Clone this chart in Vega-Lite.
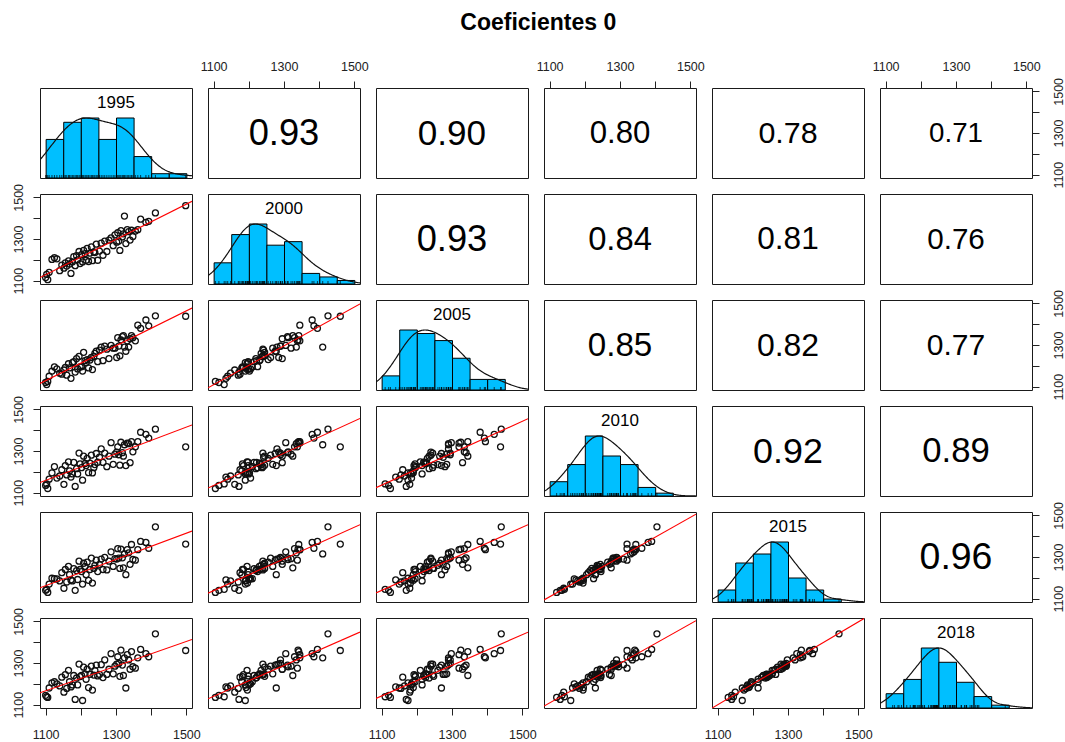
{
  "$schema": "https://vega.github.io/schema/vega-lite/v6.json",
  "padding": {"left": 11, "top": 11, "right": 5, "bottom": 5},
  "background": "white",
  "title": {"text": "Coeficientes 0", "font": "Liberation Sans", "fontSize": 23, "fontWeight": "bold", "color": "black", "anchor": "middle", "offset": 25},
  "config": {
    "view": {"stroke": "#1a1a1a", "strokeWidth": 1},
    "axis": {"domain": false, "grid": false, "ticks": true, "tickSize": 7, "tickWidth": 1, "tickColor": "#222", "labelColor": "#222", "labelFont": "Liberation Sans", "labelFontSize": 12.5, "labelPadding": 8, "labelOverlap": false, "labelBound": false, "labelFlush": false},
    "axisBottom": {"labelPadding": 13},
    "axisRight": {"labelPadding": 13},
    "point": {"shape": "circle", "filled": false, "color": "#111", "opacity": 1, "size": 36, "strokeWidth": 1.3},
    "text": {"font": "Liberation Sans", "color": "black"}
  },
  "datasets": {
    "cor": [
      {"pair": "1995-2000", "r": 0.93}, {"pair": "1995-2005", "r": 0.90}, {"pair": "1995-2010", "r": 0.80},
      {"pair": "1995-2015", "r": 0.78}, {"pair": "1995-2018", "r": 0.71}, {"pair": "2000-2005", "r": 0.93},
      {"pair": "2000-2010", "r": 0.84}, {"pair": "2000-2015", "r": 0.81}, {"pair": "2000-2018", "r": 0.76},
      {"pair": "2005-2010", "r": 0.85}, {"pair": "2005-2015", "r": 0.82}, {"pair": "2005-2018", "r": 0.77},
      {"pair": "2010-2015", "r": 0.92}, {"pair": "2010-2018", "r": 0.89}, {"pair": "2015-2018", "r": 0.96}
    ]
  },
  "data": {"values": [
    {"v1995": 1100, "v2000": 1115, "v2005": 1120, "v2010": 1135, "v2015": 1140, "v2018": 1145},
    {"v1995": 1103, "v2000": 1130, "v2005": 1110, "v2010": 1142, "v2015": 1145, "v2018": 1138},
    {"v1995": 1106, "v2000": 1105, "v2005": 1125, "v2010": 1120, "v2015": 1130, "v2018": 1135},
    {"v1995": 1110, "v2000": 1140, "v2005": 1150, "v2010": 1165, "v2015": 1170, "v2018": 1180},
    {"v1995": 1118, "v2000": 1202, "v2005": 1175, "v2010": 1195, "v2015": 1198, "v2018": 1205},
    {"v1995": 1125, "v2000": 1210, "v2005": 1195, "v2010": 1225, "v2015": 1196, "v2018": 1210},
    {"v1995": 1132, "v2000": 1205, "v2005": 1185, "v2010": 1170, "v2015": 1195, "v2018": 1200},
    {"v1995": 1140, "v2000": 1148, "v2005": 1165, "v2010": 1180, "v2015": 1185, "v2018": 1190},
    {"v1995": 1146, "v2000": 1175, "v2005": 1160, "v2010": 1210, "v2015": 1225, "v2018": 1232},
    {"v1995": 1152, "v2000": 1160, "v2005": 1180, "v2010": 1140, "v2015": 1150, "v2018": 1160},
    {"v1995": 1156, "v2000": 1185, "v2005": 1192, "v2010": 1230, "v2015": 1240, "v2018": 1244},
    {"v1995": 1160, "v2000": 1170, "v2005": 1155, "v2010": 1185, "v2015": 1180, "v2018": 1178},
    {"v1995": 1165, "v2000": 1195, "v2005": 1210, "v2010": 1248, "v2015": 1255, "v2018": 1265},
    {"v1995": 1168, "v2000": 1180, "v2005": 1190, "v2010": 1205, "v2015": 1215, "v2018": 1210},
    {"v1995": 1172, "v2000": 1135, "v2005": 1140, "v2010": 1175, "v2015": 1190, "v2018": 1185},
    {"v1995": 1176, "v2000": 1190, "v2005": 1215, "v2010": 1190, "v2015": 1185, "v2018": 1195},
    {"v1995": 1180, "v2000": 1215, "v2005": 1220, "v2010": 1245, "v2015": 1244, "v2018": 1240},
    {"v1995": 1184, "v2000": 1172, "v2005": 1170, "v2010": 1130, "v2015": 1140, "v2018": 1125},
    {"v1995": 1188, "v2000": 1220, "v2005": 1235, "v2010": 1215, "v2015": 1235, "v2018": 1228},
    {"v1995": 1191, "v2000": 1200, "v2005": 1185, "v2010": 1190, "v2015": 1192, "v2018": 1195},
    {"v1995": 1195, "v2000": 1240, "v2005": 1245, "v2010": 1290, "v2015": 1280, "v2018": 1295},
    {"v1995": 1198, "v2000": 1182, "v2005": 1195, "v2010": 1238, "v2015": 1240, "v2018": 1235},
    {"v1995": 1202, "v2000": 1225, "v2005": 1196, "v2010": 1220, "v2015": 1230, "v2018": 1240},
    {"v1995": 1205, "v2000": 1190, "v2005": 1175, "v2010": 1160, "v2015": 1170, "v2018": 1120},
    {"v1995": 1208, "v2000": 1245, "v2005": 1265, "v2010": 1275, "v2015": 1270, "v2018": 1280},
    {"v1995": 1212, "v2000": 1230, "v2005": 1225, "v2010": 1240, "v2015": 1255, "v2018": 1248},
    {"v1995": 1215, "v2000": 1198, "v2005": 1215, "v2010": 1230, "v2015": 1215, "v2018": 1222},
    {"v1995": 1218, "v2000": 1255, "v2005": 1230, "v2010": 1265, "v2015": 1275, "v2018": 1270},
    {"v1995": 1222, "v2000": 1192, "v2005": 1190, "v2010": 1196, "v2015": 1188, "v2018": 1182},
    {"v1995": 1226, "v2000": 1232, "v2005": 1228, "v2010": 1242, "v2015": 1240, "v2018": 1246},
    {"v1995": 1230, "v2000": 1262, "v2005": 1240, "v2010": 1280, "v2015": 1295, "v2018": 1285},
    {"v1995": 1233, "v2000": 1196, "v2005": 1182, "v2010": 1195, "v2015": 1175, "v2018": 1170},
    {"v1995": 1237, "v2000": 1238, "v2005": 1245, "v2010": 1220, "v2015": 1245, "v2018": 1242},
    {"v1995": 1240, "v2000": 1235, "v2005": 1260, "v2010": 1235, "v2015": 1260, "v2018": 1265},
    {"v1995": 1244, "v2000": 1275, "v2005": 1270, "v2010": 1288, "v2015": 1285, "v2018": 1290},
    {"v1995": 1248, "v2000": 1198, "v2005": 1220, "v2010": 1246, "v2015": 1230, "v2018": 1238},
    {"v1995": 1253, "v2000": 1242, "v2005": 1275, "v2010": 1270, "v2015": 1265, "v2018": 1245},
    {"v1995": 1258, "v2000": 1280, "v2005": 1290, "v2010": 1310, "v2015": 1290, "v2018": 1292},
    {"v1995": 1263, "v2000": 1222, "v2005": 1225, "v2010": 1245, "v2015": 1240, "v2018": 1230},
    {"v1995": 1268, "v2000": 1290, "v2005": 1295, "v2010": 1290, "v2015": 1298, "v2018": 1315},
    {"v1995": 1274, "v2000": 1240, "v2005": 1280, "v2010": 1225, "v2015": 1238, "v2018": 1245},
    {"v1995": 1280, "v2000": 1295, "v2005": 1235, "v2010": 1275, "v2015": 1280, "v2018": 1270},
    {"v1995": 1286, "v2000": 1305, "v2005": 1298, "v2010": 1340, "v2015": 1325, "v2018": 1345},
    {"v1995": 1292, "v2000": 1268, "v2005": 1285, "v2010": 1236, "v2015": 1255, "v2018": 1248},
    {"v1995": 1297, "v2000": 1320, "v2005": 1285, "v2010": 1285, "v2015": 1292, "v2018": 1285},
    {"v1995": 1302, "v2000": 1285, "v2005": 1240, "v2010": 1295, "v2015": 1290, "v2018": 1295},
    {"v1995": 1305, "v2000": 1330, "v2005": 1335, "v2010": 1320, "v2015": 1340, "v2018": 1330},
    {"v1995": 1308, "v2000": 1290, "v2005": 1295, "v2010": 1282, "v2015": 1295, "v2018": 1298},
    {"v1995": 1311, "v2000": 1245, "v2005": 1248, "v2010": 1232, "v2015": 1245, "v2018": 1236},
    {"v1995": 1314, "v2000": 1340, "v2005": 1325, "v2010": 1342, "v2015": 1338, "v2018": 1362},
    {"v1995": 1318, "v2000": 1310, "v2005": 1340, "v2010": 1292, "v2015": 1296, "v2018": 1290},
    {"v1995": 1321, "v2000": 1325, "v2005": 1345, "v2010": 1275, "v2015": 1248, "v2018": 1240},
    {"v1995": 1324, "v2000": 1410, "v2005": 1290, "v2010": 1330, "v2015": 1315, "v2018": 1325},
    {"v1995": 1328, "v2000": 1278, "v2005": 1270, "v2010": 1230, "v2015": 1215, "v2018": 1180},
    {"v1995": 1332, "v2000": 1345, "v2005": 1320, "v2010": 1338, "v2015": 1335, "v2018": 1340},
    {"v1995": 1336, "v2000": 1335, "v2005": 1290, "v2010": 1335, "v2015": 1320, "v2018": 1315},
    {"v1995": 1340, "v2000": 1295, "v2005": 1330, "v2010": 1244, "v2015": 1265, "v2018": 1270},
    {"v1995": 1344, "v2000": 1342, "v2005": 1345, "v2010": 1345, "v2015": 1360, "v2018": 1355},
    {"v1995": 1348, "v2000": 1312, "v2005": 1335, "v2010": 1296, "v2015": 1288, "v2018": 1282},
    {"v1995": 1355, "v2000": 1338, "v2005": 1320, "v2010": 1320, "v2015": 1285, "v2018": 1275},
    {"v1995": 1362, "v2000": 1345, "v2005": 1395, "v2010": 1345, "v2015": 1335, "v2018": 1325},
    {"v1995": 1370, "v2000": 1395, "v2005": 1380, "v2010": 1390, "v2015": 1375, "v2018": 1365},
    {"v1995": 1385, "v2000": 1380, "v2005": 1420, "v2010": 1380, "v2015": 1370, "v2018": 1345},
    {"v1995": 1393, "v2000": 1385, "v2005": 1392, "v2010": 1362, "v2015": 1342, "v2018": 1330},
    {"v1995": 1412, "v2000": 1425, "v2005": 1440, "v2010": 1405, "v2015": 1445, "v2018": 1440},
    {"v1995": 1498, "v2000": 1460, "v2005": 1438, "v2010": 1320, "v2015": 1362, "v2018": 1360}
  ]},
  "columns": 6,
  "spacing": 16,
  "bounds": "flush",
  "concat": [
    {"width": 152, "height": 90, "resolve": {"scale": {"y": "independent"}}, "layer": [
      {"layer": [
        {"mark": {"type": "bar", "fill": "#00BFFF", "stroke": "black", "strokeWidth": 1, "binSpacing": 0}, "encoding": {"x": {"field": "v1995", "type": "quantitative", "bin": {"extent": [1100, 1500], "step": 50}, "scale": {"domain": [1084, 1516], "nice": false, "zero": false}, "axis": null}, "y": {"aggregate": "count", "type": "quantitative", "scale": {"range": [90, 30], "zero": true, "nice": false}, "axis": null}}},
        {"mark": {"type": "tick", "orient": "vertical", "size": 6, "thickness": 1, "color": "black", "clip": true}, "encoding": {"x": {"field": "v1995", "type": "quantitative"}, "y": {"datum": 0, "type": "quantitative"}}}
      ]},
      {"transform": [{"density": "v1995", "bandwidth": 45, "extent": [1084, 1516], "steps": 200}], "mark": {"type": "line", "color": "#111", "strokeWidth": 1.2, "clip": true}, "encoding": {"x": {"field": "value", "type": "quantitative"}, "y": {"field": "density", "type": "quantitative", "scale": {"range": [90, 30], "zero": true, "nice": false}, "axis": null}}},
      {"data": {"values": [{}]}, "mark": {"type": "text", "text": "1995", "fontSize": 17}, "encoding": {"x": {"datum": 1300, "type": "quantitative"}, "y": {"datum": 0.83, "type": "quantitative", "scale": {"domain": [0, 1]}, "axis": null}}}
    ]},
    {"width": 152, "height": 90, "data": {"name": "cor"}, "transform": [{"filter": "datum.pair == '1995-2000'"}], "mark": {"type": "text", "baseline": "middle", "dy": 1}, "encoding": {"x": {"datum": 1300, "type": "quantitative", "scale": {"domain": [1084, 1516], "nice": false, "zero": false}, "axis": {"orient": "top", "values": [1100, 1200, 1300, 1400, 1500], "format": "d", "labelExpr": "datum.value % 200 == 100 ? datum.label : ''", "title": null}}, "y": {"datum": 1300, "type": "quantitative", "scale": {"domain": [1084, 1516], "nice": false, "zero": false}, "axis": null}, "text": {"field": "r", "type": "quantitative", "format": ".2f"}, "size": {"field": "r", "type": "quantitative", "scale": {"type": "linear", "domain": [0, 1], "range": [0, 39]}, "legend": null}}},
    {"width": 152, "height": 90, "data": {"name": "cor"}, "transform": [{"filter": "datum.pair == '1995-2005'"}], "mark": {"type": "text", "baseline": "middle", "dy": 1}, "encoding": {"x": {"datum": 1300, "type": "quantitative", "scale": {"domain": [1084, 1516], "nice": false, "zero": false}, "axis": null}, "y": {"datum": 1300, "type": "quantitative", "scale": {"domain": [1084, 1516], "nice": false, "zero": false}, "axis": null}, "text": {"field": "r", "type": "quantitative", "format": ".2f"}, "size": {"field": "r", "type": "quantitative", "scale": {"type": "linear", "domain": [0, 1], "range": [0, 39]}, "legend": null}}},
    {"width": 152, "height": 90, "data": {"name": "cor"}, "transform": [{"filter": "datum.pair == '1995-2010'"}], "mark": {"type": "text", "baseline": "middle", "dy": 1}, "encoding": {"x": {"datum": 1300, "type": "quantitative", "scale": {"domain": [1084, 1516], "nice": false, "zero": false}, "axis": {"orient": "top", "values": [1100, 1200, 1300, 1400, 1500], "format": "d", "labelExpr": "datum.value % 200 == 100 ? datum.label : ''", "title": null}}, "y": {"datum": 1300, "type": "quantitative", "scale": {"domain": [1084, 1516], "nice": false, "zero": false}, "axis": null}, "text": {"field": "r", "type": "quantitative", "format": ".2f"}, "size": {"field": "r", "type": "quantitative", "scale": {"type": "linear", "domain": [0, 1], "range": [0, 39]}, "legend": null}}},
    {"width": 152, "height": 90, "data": {"name": "cor"}, "transform": [{"filter": "datum.pair == '1995-2015'"}], "mark": {"type": "text", "baseline": "middle", "dy": 1}, "encoding": {"x": {"datum": 1300, "type": "quantitative", "scale": {"domain": [1084, 1516], "nice": false, "zero": false}, "axis": null}, "y": {"datum": 1300, "type": "quantitative", "scale": {"domain": [1084, 1516], "nice": false, "zero": false}, "axis": null}, "text": {"field": "r", "type": "quantitative", "format": ".2f"}, "size": {"field": "r", "type": "quantitative", "scale": {"type": "linear", "domain": [0, 1], "range": [0, 39]}, "legend": null}}},
    {"width": 152, "height": 90, "data": {"name": "cor"}, "transform": [{"filter": "datum.pair == '1995-2018'"}], "mark": {"type": "text", "baseline": "middle", "dy": 1}, "encoding": {"x": {"datum": 1300, "type": "quantitative", "scale": {"domain": [1084, 1516], "nice": false, "zero": false}, "axis": {"orient": "top", "values": [1100, 1200, 1300, 1400, 1500], "format": "d", "labelExpr": "datum.value % 200 == 100 ? datum.label : ''", "title": null}}, "y": {"datum": 1300, "type": "quantitative", "scale": {"domain": [1084, 1516], "nice": false, "zero": false}, "axis": {"orient": "right", "values": [1100, 1200, 1300, 1400, 1500], "format": "d", "labelExpr": "datum.value % 200 == 100 ? datum.label : ''", "title": null, "labelAngle": 270, "labelAlign": "center", "labelBaseline": "top"}}, "text": {"field": "r", "type": "quantitative", "format": ".2f"}, "size": {"field": "r", "type": "quantitative", "scale": {"type": "linear", "domain": [0, 1], "range": [0, 39]}, "legend": null}}},

    {"width": 152, "height": 90, "encoding": {"x": {"field": "v1995", "type": "quantitative", "scale": {"domain": [1084, 1516], "nice": false, "zero": false}, "axis": null}, "y": {"field": "v2000", "type": "quantitative", "scale": {"domain": [1084, 1516], "nice": false, "zero": false}, "axis": {"orient": "left", "values": [1100, 1200, 1300, 1400, 1500], "format": "d", "labelExpr": "datum.value % 200 == 100 ? datum.label : ''", "title": null, "labelAngle": 270, "labelAlign": "center", "labelBaseline": "bottom"}}}, "layer": [
      {"mark": {"type": "point"}, "encoding": {}},
      {"transform": [{"regression": "v2000", "on": "v1995", "extent": [1084, 1516]}], "mark": {"type": "line", "color": "red", "strokeWidth": 1.1, "clip": true}, "encoding": {}}
    ]},
    {"width": 152, "height": 90, "resolve": {"scale": {"y": "independent"}}, "layer": [
      {"layer": [
        {"mark": {"type": "bar", "fill": "#00BFFF", "stroke": "black", "strokeWidth": 1, "binSpacing": 0}, "encoding": {"x": {"field": "v2000", "type": "quantitative", "bin": {"extent": [1100, 1500], "step": 50}, "scale": {"domain": [1084, 1516], "nice": false, "zero": false}, "axis": null}, "y": {"aggregate": "count", "type": "quantitative", "scale": {"range": [90, 30], "zero": true, "nice": false}, "axis": null}}},
        {"mark": {"type": "tick", "orient": "vertical", "size": 6, "thickness": 1, "color": "black", "clip": true}, "encoding": {"x": {"field": "v2000", "type": "quantitative"}, "y": {"datum": 0, "type": "quantitative"}}}
      ]},
      {"transform": [{"density": "v2000", "bandwidth": 41, "extent": [1084, 1516], "steps": 200}], "mark": {"type": "line", "color": "#111", "strokeWidth": 1.2, "clip": true}, "encoding": {"x": {"field": "value", "type": "quantitative"}, "y": {"field": "density", "type": "quantitative", "scale": {"range": [90, 30], "zero": true, "nice": false}, "axis": null}}},
      {"data": {"values": [{}]}, "mark": {"type": "text", "text": "2000", "fontSize": 17}, "encoding": {"x": {"datum": 1300, "type": "quantitative"}, "y": {"datum": 0.83, "type": "quantitative", "scale": {"domain": [0, 1]}, "axis": null}}}
    ]},
    {"width": 152, "height": 90, "data": {"name": "cor"}, "transform": [{"filter": "datum.pair == '2000-2005'"}], "mark": {"type": "text", "baseline": "middle", "dy": 1}, "encoding": {"x": {"datum": 1300, "type": "quantitative", "scale": {"domain": [1084, 1516], "nice": false, "zero": false}, "axis": null}, "y": {"datum": 1300, "type": "quantitative", "scale": {"domain": [1084, 1516], "nice": false, "zero": false}, "axis": null}, "text": {"field": "r", "type": "quantitative", "format": ".2f"}, "size": {"field": "r", "type": "quantitative", "scale": {"type": "linear", "domain": [0, 1], "range": [0, 39]}, "legend": null}}},
    {"width": 152, "height": 90, "data": {"name": "cor"}, "transform": [{"filter": "datum.pair == '2000-2010'"}], "mark": {"type": "text", "baseline": "middle", "dy": 1}, "encoding": {"x": {"datum": 1300, "type": "quantitative", "scale": {"domain": [1084, 1516], "nice": false, "zero": false}, "axis": null}, "y": {"datum": 1300, "type": "quantitative", "scale": {"domain": [1084, 1516], "nice": false, "zero": false}, "axis": null}, "text": {"field": "r", "type": "quantitative", "format": ".2f"}, "size": {"field": "r", "type": "quantitative", "scale": {"type": "linear", "domain": [0, 1], "range": [0, 39]}, "legend": null}}},
    {"width": 152, "height": 90, "data": {"name": "cor"}, "transform": [{"filter": "datum.pair == '2000-2015'"}], "mark": {"type": "text", "baseline": "middle", "dy": 1}, "encoding": {"x": {"datum": 1300, "type": "quantitative", "scale": {"domain": [1084, 1516], "nice": false, "zero": false}, "axis": null}, "y": {"datum": 1300, "type": "quantitative", "scale": {"domain": [1084, 1516], "nice": false, "zero": false}, "axis": null}, "text": {"field": "r", "type": "quantitative", "format": ".2f"}, "size": {"field": "r", "type": "quantitative", "scale": {"type": "linear", "domain": [0, 1], "range": [0, 39]}, "legend": null}}},
    {"width": 152, "height": 90, "data": {"name": "cor"}, "transform": [{"filter": "datum.pair == '2000-2018'"}], "mark": {"type": "text", "baseline": "middle", "dy": 1}, "encoding": {"x": {"datum": 1300, "type": "quantitative", "scale": {"domain": [1084, 1516], "nice": false, "zero": false}, "axis": null}, "y": {"datum": 1300, "type": "quantitative", "scale": {"domain": [1084, 1516], "nice": false, "zero": false}, "axis": null}, "text": {"field": "r", "type": "quantitative", "format": ".2f"}, "size": {"field": "r", "type": "quantitative", "scale": {"type": "linear", "domain": [0, 1], "range": [0, 39]}, "legend": null}}},

    {"width": 152, "height": 90, "encoding": {"x": {"field": "v1995", "type": "quantitative", "scale": {"domain": [1084, 1516], "nice": false, "zero": false}, "axis": null}, "y": {"field": "v2005", "type": "quantitative", "scale": {"domain": [1084, 1516], "nice": false, "zero": false}, "axis": null}}, "layer": [
      {"mark": {"type": "point"}, "encoding": {}},
      {"transform": [{"regression": "v2005", "on": "v1995", "extent": [1084, 1516]}], "mark": {"type": "line", "color": "red", "strokeWidth": 1.1, "clip": true}, "encoding": {}}
    ]},
    {"width": 152, "height": 90, "encoding": {"x": {"field": "v2000", "type": "quantitative", "scale": {"domain": [1084, 1516], "nice": false, "zero": false}, "axis": null}, "y": {"field": "v2005", "type": "quantitative", "scale": {"domain": [1084, 1516], "nice": false, "zero": false}, "axis": null}}, "layer": [
      {"mark": {"type": "point"}, "encoding": {}},
      {"transform": [{"regression": "v2005", "on": "v2000", "extent": [1084, 1516]}], "mark": {"type": "line", "color": "red", "strokeWidth": 1.1, "clip": true}, "encoding": {}}
    ]},
    {"width": 152, "height": 90, "resolve": {"scale": {"y": "independent"}}, "layer": [
      {"layer": [
        {"mark": {"type": "bar", "fill": "#00BFFF", "stroke": "black", "strokeWidth": 1, "binSpacing": 0}, "encoding": {"x": {"field": "v2005", "type": "quantitative", "bin": {"extent": [1100, 1500], "step": 50}, "scale": {"domain": [1084, 1516], "nice": false, "zero": false}, "axis": null}, "y": {"aggregate": "count", "type": "quantitative", "scale": {"range": [90, 30], "zero": true, "nice": false}, "axis": null}}},
        {"mark": {"type": "tick", "orient": "vertical", "size": 6, "thickness": 1, "color": "black", "clip": true}, "encoding": {"x": {"field": "v2005", "type": "quantitative"}, "y": {"datum": 0, "type": "quantitative"}}}
      ]},
      {"transform": [{"density": "v2005", "bandwidth": 41, "extent": [1084, 1516], "steps": 200}], "mark": {"type": "line", "color": "#111", "strokeWidth": 1.2, "clip": true}, "encoding": {"x": {"field": "value", "type": "quantitative"}, "y": {"field": "density", "type": "quantitative", "scale": {"range": [90, 30], "zero": true, "nice": false}, "axis": null}}},
      {"data": {"values": [{}]}, "mark": {"type": "text", "text": "2005", "fontSize": 17}, "encoding": {"x": {"datum": 1300, "type": "quantitative"}, "y": {"datum": 0.83, "type": "quantitative", "scale": {"domain": [0, 1]}, "axis": null}}}
    ]},
    {"width": 152, "height": 90, "data": {"name": "cor"}, "transform": [{"filter": "datum.pair == '2005-2010'"}], "mark": {"type": "text", "baseline": "middle", "dy": 1}, "encoding": {"x": {"datum": 1300, "type": "quantitative", "scale": {"domain": [1084, 1516], "nice": false, "zero": false}, "axis": null}, "y": {"datum": 1300, "type": "quantitative", "scale": {"domain": [1084, 1516], "nice": false, "zero": false}, "axis": null}, "text": {"field": "r", "type": "quantitative", "format": ".2f"}, "size": {"field": "r", "type": "quantitative", "scale": {"type": "linear", "domain": [0, 1], "range": [0, 39]}, "legend": null}}},
    {"width": 152, "height": 90, "data": {"name": "cor"}, "transform": [{"filter": "datum.pair == '2005-2015'"}], "mark": {"type": "text", "baseline": "middle", "dy": 1}, "encoding": {"x": {"datum": 1300, "type": "quantitative", "scale": {"domain": [1084, 1516], "nice": false, "zero": false}, "axis": null}, "y": {"datum": 1300, "type": "quantitative", "scale": {"domain": [1084, 1516], "nice": false, "zero": false}, "axis": null}, "text": {"field": "r", "type": "quantitative", "format": ".2f"}, "size": {"field": "r", "type": "quantitative", "scale": {"type": "linear", "domain": [0, 1], "range": [0, 39]}, "legend": null}}},
    {"width": 152, "height": 90, "data": {"name": "cor"}, "transform": [{"filter": "datum.pair == '2005-2018'"}], "mark": {"type": "text", "baseline": "middle", "dy": 1}, "encoding": {"x": {"datum": 1300, "type": "quantitative", "scale": {"domain": [1084, 1516], "nice": false, "zero": false}, "axis": null}, "y": {"datum": 1300, "type": "quantitative", "scale": {"domain": [1084, 1516], "nice": false, "zero": false}, "axis": {"orient": "right", "values": [1100, 1200, 1300, 1400, 1500], "format": "d", "labelExpr": "datum.value % 200 == 100 ? datum.label : ''", "title": null, "labelAngle": 270, "labelAlign": "center", "labelBaseline": "top"}}, "text": {"field": "r", "type": "quantitative", "format": ".2f"}, "size": {"field": "r", "type": "quantitative", "scale": {"type": "linear", "domain": [0, 1], "range": [0, 39]}, "legend": null}}},

    {"width": 152, "height": 90, "encoding": {"x": {"field": "v1995", "type": "quantitative", "scale": {"domain": [1084, 1516], "nice": false, "zero": false}, "axis": null}, "y": {"field": "v2010", "type": "quantitative", "scale": {"domain": [1084, 1516], "nice": false, "zero": false}, "axis": {"orient": "left", "values": [1100, 1200, 1300, 1400, 1500], "format": "d", "labelExpr": "datum.value % 200 == 100 ? datum.label : ''", "title": null, "labelAngle": 270, "labelAlign": "center", "labelBaseline": "bottom"}}}, "layer": [
      {"mark": {"type": "point"}, "encoding": {}},
      {"transform": [{"regression": "v2010", "on": "v1995", "extent": [1084, 1516]}], "mark": {"type": "line", "color": "red", "strokeWidth": 1.1, "clip": true}, "encoding": {}}
    ]},
    {"width": 152, "height": 90, "encoding": {"x": {"field": "v2000", "type": "quantitative", "scale": {"domain": [1084, 1516], "nice": false, "zero": false}, "axis": null}, "y": {"field": "v2010", "type": "quantitative", "scale": {"domain": [1084, 1516], "nice": false, "zero": false}, "axis": null}}, "layer": [
      {"mark": {"type": "point"}, "encoding": {}},
      {"transform": [{"regression": "v2010", "on": "v2000", "extent": [1084, 1516]}], "mark": {"type": "line", "color": "red", "strokeWidth": 1.1, "clip": true}, "encoding": {}}
    ]},
    {"width": 152, "height": 90, "encoding": {"x": {"field": "v2005", "type": "quantitative", "scale": {"domain": [1084, 1516], "nice": false, "zero": false}, "axis": null}, "y": {"field": "v2010", "type": "quantitative", "scale": {"domain": [1084, 1516], "nice": false, "zero": false}, "axis": null}}, "layer": [
      {"mark": {"type": "point"}, "encoding": {}},
      {"transform": [{"regression": "v2010", "on": "v2005", "extent": [1084, 1516]}], "mark": {"type": "line", "color": "red", "strokeWidth": 1.1, "clip": true}, "encoding": {}}
    ]},
    {"width": 152, "height": 90, "resolve": {"scale": {"y": "independent"}}, "layer": [
      {"layer": [
        {"mark": {"type": "bar", "fill": "#00BFFF", "stroke": "black", "strokeWidth": 1, "binSpacing": 0}, "encoding": {"x": {"field": "v2010", "type": "quantitative", "bin": {"extent": [1100, 1500], "step": 50}, "scale": {"domain": [1084, 1516], "nice": false, "zero": false}, "axis": null}, "y": {"aggregate": "count", "type": "quantitative", "scale": {"range": [90, 30], "zero": true, "nice": false}, "axis": null}}},
        {"mark": {"type": "tick", "orient": "vertical", "size": 6, "thickness": 1, "color": "black", "clip": true}, "encoding": {"x": {"field": "v2010", "type": "quantitative"}, "y": {"datum": 0, "type": "quantitative"}}}
      ]},
      {"transform": [{"density": "v2010", "bandwidth": 36, "extent": [1084, 1516], "steps": 200}], "mark": {"type": "line", "color": "#111", "strokeWidth": 1.2, "clip": true}, "encoding": {"x": {"field": "value", "type": "quantitative"}, "y": {"field": "density", "type": "quantitative", "scale": {"range": [90, 30], "zero": true, "nice": false}, "axis": null}}},
      {"data": {"values": [{}]}, "mark": {"type": "text", "text": "2010", "fontSize": 17}, "encoding": {"x": {"datum": 1300, "type": "quantitative"}, "y": {"datum": 0.83, "type": "quantitative", "scale": {"domain": [0, 1]}, "axis": null}}}
    ]},
    {"width": 152, "height": 90, "data": {"name": "cor"}, "transform": [{"filter": "datum.pair == '2010-2015'"}], "mark": {"type": "text", "baseline": "middle", "dy": 1}, "encoding": {"x": {"datum": 1300, "type": "quantitative", "scale": {"domain": [1084, 1516], "nice": false, "zero": false}, "axis": null}, "y": {"datum": 1300, "type": "quantitative", "scale": {"domain": [1084, 1516], "nice": false, "zero": false}, "axis": null}, "text": {"field": "r", "type": "quantitative", "format": ".2f"}, "size": {"field": "r", "type": "quantitative", "scale": {"type": "linear", "domain": [0, 1], "range": [0, 39]}, "legend": null}}},
    {"width": 152, "height": 90, "data": {"name": "cor"}, "transform": [{"filter": "datum.pair == '2010-2018'"}], "mark": {"type": "text", "baseline": "middle", "dy": 1}, "encoding": {"x": {"datum": 1300, "type": "quantitative", "scale": {"domain": [1084, 1516], "nice": false, "zero": false}, "axis": null}, "y": {"datum": 1300, "type": "quantitative", "scale": {"domain": [1084, 1516], "nice": false, "zero": false}, "axis": null}, "text": {"field": "r", "type": "quantitative", "format": ".2f"}, "size": {"field": "r", "type": "quantitative", "scale": {"type": "linear", "domain": [0, 1], "range": [0, 39]}, "legend": null}}},

    {"width": 152, "height": 90, "encoding": {"x": {"field": "v1995", "type": "quantitative", "scale": {"domain": [1084, 1516], "nice": false, "zero": false}, "axis": null}, "y": {"field": "v2015", "type": "quantitative", "scale": {"domain": [1084, 1516], "nice": false, "zero": false}, "axis": null}}, "layer": [
      {"mark": {"type": "point"}, "encoding": {}},
      {"transform": [{"regression": "v2015", "on": "v1995", "extent": [1084, 1516]}], "mark": {"type": "line", "color": "red", "strokeWidth": 1.1, "clip": true}, "encoding": {}}
    ]},
    {"width": 152, "height": 90, "encoding": {"x": {"field": "v2000", "type": "quantitative", "scale": {"domain": [1084, 1516], "nice": false, "zero": false}, "axis": null}, "y": {"field": "v2015", "type": "quantitative", "scale": {"domain": [1084, 1516], "nice": false, "zero": false}, "axis": null}}, "layer": [
      {"mark": {"type": "point"}, "encoding": {}},
      {"transform": [{"regression": "v2015", "on": "v2000", "extent": [1084, 1516]}], "mark": {"type": "line", "color": "red", "strokeWidth": 1.1, "clip": true}, "encoding": {}}
    ]},
    {"width": 152, "height": 90, "encoding": {"x": {"field": "v2005", "type": "quantitative", "scale": {"domain": [1084, 1516], "nice": false, "zero": false}, "axis": null}, "y": {"field": "v2015", "type": "quantitative", "scale": {"domain": [1084, 1516], "nice": false, "zero": false}, "axis": null}}, "layer": [
      {"mark": {"type": "point"}, "encoding": {}},
      {"transform": [{"regression": "v2015", "on": "v2005", "extent": [1084, 1516]}], "mark": {"type": "line", "color": "red", "strokeWidth": 1.1, "clip": true}, "encoding": {}}
    ]},
    {"width": 152, "height": 90, "encoding": {"x": {"field": "v2010", "type": "quantitative", "scale": {"domain": [1084, 1516], "nice": false, "zero": false}, "axis": null}, "y": {"field": "v2015", "type": "quantitative", "scale": {"domain": [1084, 1516], "nice": false, "zero": false}, "axis": null}}, "layer": [
      {"mark": {"type": "point"}, "encoding": {}},
      {"transform": [{"regression": "v2015", "on": "v2010", "extent": [1084, 1516]}], "mark": {"type": "line", "color": "red", "strokeWidth": 1.1, "clip": true}, "encoding": {}}
    ]},
    {"width": 152, "height": 90, "resolve": {"scale": {"y": "independent"}}, "layer": [
      {"layer": [
        {"mark": {"type": "bar", "fill": "#00BFFF", "stroke": "black", "strokeWidth": 1, "binSpacing": 0}, "encoding": {"x": {"field": "v2015", "type": "quantitative", "bin": {"extent": [1100, 1500], "step": 50}, "scale": {"domain": [1084, 1516], "nice": false, "zero": false}, "axis": null}, "y": {"aggregate": "count", "type": "quantitative", "scale": {"range": [90, 30], "zero": true, "nice": false}, "axis": null}}},
        {"mark": {"type": "tick", "orient": "vertical", "size": 6, "thickness": 1, "color": "black", "clip": true}, "encoding": {"x": {"field": "v2015", "type": "quantitative"}, "y": {"datum": 0, "type": "quantitative"}}}
      ]},
      {"transform": [{"density": "v2015", "bandwidth": 34, "extent": [1084, 1516], "steps": 200}], "mark": {"type": "line", "color": "#111", "strokeWidth": 1.2, "clip": true}, "encoding": {"x": {"field": "value", "type": "quantitative"}, "y": {"field": "density", "type": "quantitative", "scale": {"range": [90, 30], "zero": true, "nice": false}, "axis": null}}},
      {"data": {"values": [{}]}, "mark": {"type": "text", "text": "2015", "fontSize": 17}, "encoding": {"x": {"datum": 1300, "type": "quantitative"}, "y": {"datum": 0.83, "type": "quantitative", "scale": {"domain": [0, 1]}, "axis": null}}}
    ]},
    {"width": 152, "height": 90, "data": {"name": "cor"}, "transform": [{"filter": "datum.pair == '2015-2018'"}], "mark": {"type": "text", "baseline": "middle", "dy": 1}, "encoding": {"x": {"datum": 1300, "type": "quantitative", "scale": {"domain": [1084, 1516], "nice": false, "zero": false}, "axis": null}, "y": {"datum": 1300, "type": "quantitative", "scale": {"domain": [1084, 1516], "nice": false, "zero": false}, "axis": {"orient": "right", "values": [1100, 1200, 1300, 1400, 1500], "format": "d", "labelExpr": "datum.value % 200 == 100 ? datum.label : ''", "title": null, "labelAngle": 270, "labelAlign": "center", "labelBaseline": "top"}}, "text": {"field": "r", "type": "quantitative", "format": ".2f"}, "size": {"field": "r", "type": "quantitative", "scale": {"type": "linear", "domain": [0, 1], "range": [0, 39]}, "legend": null}}},

    {"width": 152, "height": 90, "encoding": {"x": {"field": "v1995", "type": "quantitative", "scale": {"domain": [1084, 1516], "nice": false, "zero": false}, "axis": {"orient": "bottom", "values": [1100, 1200, 1300, 1400, 1500], "format": "d", "labelExpr": "datum.value % 200 == 100 ? datum.label : ''", "title": null}}, "y": {"field": "v2018", "type": "quantitative", "scale": {"domain": [1084, 1516], "nice": false, "zero": false}, "axis": {"orient": "left", "values": [1100, 1200, 1300, 1400, 1500], "format": "d", "labelExpr": "datum.value % 200 == 100 ? datum.label : ''", "title": null, "labelAngle": 270, "labelAlign": "center", "labelBaseline": "bottom"}}}, "layer": [
      {"mark": {"type": "point"}, "encoding": {}},
      {"transform": [{"regression": "v2018", "on": "v1995", "extent": [1084, 1516]}], "mark": {"type": "line", "color": "red", "strokeWidth": 1.1, "clip": true}, "encoding": {}}
    ]},
    {"width": 152, "height": 90, "encoding": {"x": {"field": "v2000", "type": "quantitative", "scale": {"domain": [1084, 1516], "nice": false, "zero": false}, "axis": null}, "y": {"field": "v2018", "type": "quantitative", "scale": {"domain": [1084, 1516], "nice": false, "zero": false}, "axis": null}}, "layer": [
      {"mark": {"type": "point"}, "encoding": {}},
      {"transform": [{"regression": "v2018", "on": "v2000", "extent": [1084, 1516]}], "mark": {"type": "line", "color": "red", "strokeWidth": 1.1, "clip": true}, "encoding": {}}
    ]},
    {"width": 152, "height": 90, "encoding": {"x": {"field": "v2005", "type": "quantitative", "scale": {"domain": [1084, 1516], "nice": false, "zero": false}, "axis": {"orient": "bottom", "values": [1100, 1200, 1300, 1400, 1500], "format": "d", "labelExpr": "datum.value % 200 == 100 ? datum.label : ''", "title": null}}, "y": {"field": "v2018", "type": "quantitative", "scale": {"domain": [1084, 1516], "nice": false, "zero": false}, "axis": null}}, "layer": [
      {"mark": {"type": "point"}, "encoding": {}},
      {"transform": [{"regression": "v2018", "on": "v2005", "extent": [1084, 1516]}], "mark": {"type": "line", "color": "red", "strokeWidth": 1.1, "clip": true}, "encoding": {}}
    ]},
    {"width": 152, "height": 90, "encoding": {"x": {"field": "v2010", "type": "quantitative", "scale": {"domain": [1084, 1516], "nice": false, "zero": false}, "axis": null}, "y": {"field": "v2018", "type": "quantitative", "scale": {"domain": [1084, 1516], "nice": false, "zero": false}, "axis": null}}, "layer": [
      {"mark": {"type": "point"}, "encoding": {}},
      {"transform": [{"regression": "v2018", "on": "v2010", "extent": [1084, 1516]}], "mark": {"type": "line", "color": "red", "strokeWidth": 1.1, "clip": true}, "encoding": {}}
    ]},
    {"width": 152, "height": 90, "encoding": {"x": {"field": "v2015", "type": "quantitative", "scale": {"domain": [1084, 1516], "nice": false, "zero": false}, "axis": {"orient": "bottom", "values": [1100, 1200, 1300, 1400, 1500], "format": "d", "labelExpr": "datum.value % 200 == 100 ? datum.label : ''", "title": null}}, "y": {"field": "v2018", "type": "quantitative", "scale": {"domain": [1084, 1516], "nice": false, "zero": false}, "axis": null}}, "layer": [
      {"mark": {"type": "point"}, "encoding": {}},
      {"transform": [{"regression": "v2018", "on": "v2015", "extent": [1084, 1516]}], "mark": {"type": "line", "color": "red", "strokeWidth": 1.1, "clip": true}, "encoding": {}}
    ]},
    {"width": 152, "height": 90, "resolve": {"scale": {"y": "independent"}}, "layer": [
      {"layer": [
        {"mark": {"type": "bar", "fill": "#00BFFF", "stroke": "black", "strokeWidth": 1, "binSpacing": 0}, "encoding": {"x": {"field": "v2018", "type": "quantitative", "bin": {"extent": [1100, 1500], "step": 50}, "scale": {"domain": [1084, 1516], "nice": false, "zero": false}, "axis": null}, "y": {"aggregate": "count", "type": "quantitative", "scale": {"range": [90, 30], "zero": true, "nice": false}, "axis": null}}},
        {"mark": {"type": "tick", "orient": "vertical", "size": 6, "thickness": 1, "color": "black", "clip": true}, "encoding": {"x": {"field": "v2018", "type": "quantitative"}, "y": {"datum": 0, "type": "quantitative"}}}
      ]},
      {"transform": [{"density": "v2018", "bandwidth": 36, "extent": [1084, 1516], "steps": 200}], "mark": {"type": "line", "color": "#111", "strokeWidth": 1.2, "clip": true}, "encoding": {"x": {"field": "value", "type": "quantitative"}, "y": {"field": "density", "type": "quantitative", "scale": {"range": [90, 30], "zero": true, "nice": false}, "axis": null}}},
      {"data": {"values": [{}]}, "mark": {"type": "text", "text": "2018", "fontSize": 17}, "encoding": {"x": {"datum": 1300, "type": "quantitative"}, "y": {"datum": 0.83, "type": "quantitative", "scale": {"domain": [0, 1]}, "axis": null}}}
    ]}
  ]
}
